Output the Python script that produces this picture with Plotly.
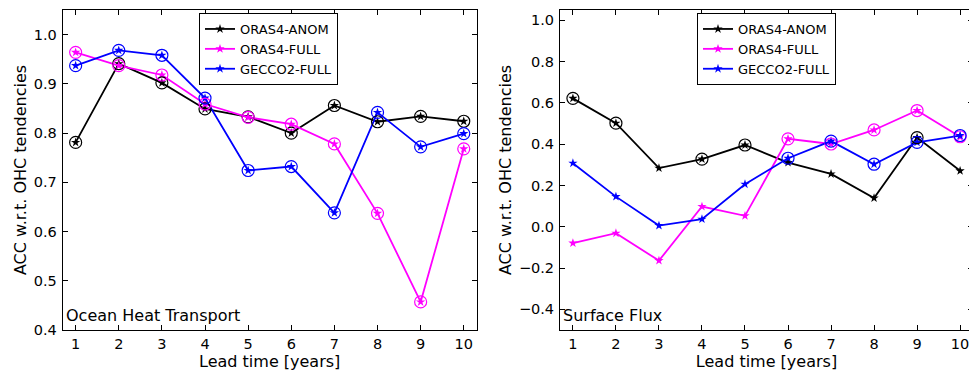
import plotly.graph_objects as go

lead = [1, 2, 3, 4, 5, 6, 7, 8, 9, 10]
xticks = [1, 2, 3, 4, 5, 6, 7, 8, 9, 10]

# Ocean Heat Transport panel
oht_anom = [0.781, 0.941, 0.902, 0.849, 0.833, 0.800, 0.856, 0.823, 0.834, 0.824]
oht_full = [0.964, 0.937, 0.918, 0.859, 0.832, 0.818, 0.778, 0.637, 0.457, 0.768]
oht_gecco = [0.937, 0.968, 0.958, 0.871, 0.724, 0.732, 0.638, 0.842, 0.772, 0.799]
oht_anom_sig = [True] * 10
oht_full_sig = [True] * 10
oht_gecco_sig = [True] * 10

# Surface Flux panel
sf_anom = [0.622, 0.502, 0.284, 0.328, 0.396, 0.311, 0.256, 0.139, 0.432, 0.271]
sf_full = [-0.079, -0.031, -0.164, 0.098, 0.053, 0.426, 0.401, 0.469, 0.563, 0.436]
sf_gecco = [0.308, 0.146, 0.006, 0.037, 0.206, 0.332, 0.415, 0.303, 0.409, 0.442]
sf_anom_sig = [True, True, False, True, True, False, False, False, True, False]
sf_full_sig = [False, False, False, False, False, True, True, True, True, True]
sf_gecco_sig = [False, False, False, False, False, True, True, True, True, True]

names = ["ORAS4-ANOM", "ORAS4-FULL", "GECCO2-FULL"]
colors = ["#000000", "#ff00ff", "#0000ff"]

FONT = "DejaVu Sans"
OFF = 8  # default page body margin
W, H = 977 - OFF, 371 - OFF


def px_x(p):
    return (p - OFF) / W


def px_y(p):
    return 1 - (p - OFF) / H


fig = go.Figure()

panels = [
    ("x", "y", "legend", [oht_anom, oht_full, oht_gecco], [oht_anom_sig, oht_full_sig, oht_gecco_sig]),
    ("x2", "y2", "legend2", [sf_anom, sf_full, sf_gecco], [sf_anom_sig, sf_full_sig, sf_gecco_sig]),
]

for xa, ya, lg, series, sigs in panels:
    for name, col, vals in zip(names, colors, series):
        fig.add_trace(go.Scatter(
            x=lead, y=vals, mode="lines+markers", name=name,
            line=dict(color=col, width=1.8),
            marker=dict(symbol="star", size=7, color=col),
            xaxis=xa, yaxis=ya, legend=lg, cliponaxis=False,
        ))
    for name, col, vals, sig in zip(names, colors, series, sigs):
        xs = [l for l, s in zip(lead, sig) if s]
        ys = [v for v, s in zip(vals, sig) if s]
        fig.add_trace(go.Scatter(
            x=xs, y=ys, mode="markers", showlegend=False,
            marker=dict(symbol="circle-open", size=12, color=col, line=dict(width=1.2)),
            xaxis=xa, yaxis=ya, hoverinfo="skip",
        ))

axis_common = dict(
    showline=True, linecolor="black", linewidth=1, mirror="allticks",
    ticks="inside", ticklen=5, tickcolor="black", tickwidth=1,
    showgrid=False, zeroline=False,
    tickfont=dict(family=FONT, size=14.5, color="black"),
)

TITLE_FONT = dict(family=FONT, size=16, color="black")
LEG_FONT = dict(family=FONT, size=13, color="black")
ydom = [px_y(330), px_y(10)]

fig.update_layout(
    width=W, height=H,
    margin=dict(l=0, r=0, t=0, b=0, autoexpand=False),
    paper_bgcolor="white", plot_bgcolor="white",
    font=dict(family=FONT, size=15, color="black"),
    xaxis=dict(domain=[px_x(62.7), px_x(476.7)], range=[0.7, 10.3], anchor="y",
               tickvals=xticks, ticktext=[str(t) for t in xticks], ticklabelstandoff=1,
               title=dict(text="Lead time [years]", font=TITLE_FONT, standoff=6),
               **axis_common),
    yaxis=dict(domain=ydom, range=[0.4, 1.05], anchor="x",
               tickvals=[0.4, 0.5, 0.6, 0.7, 0.8, 0.9, 1.0], tickformat=".1f",
               ticklabelstandoff=2,
               title=dict(text="ACC w.r.t. OHC tendencies", font=TITLE_FONT, standoff=3),
               **axis_common),
    xaxis2=dict(domain=[px_x(560), px_x(973)], range=[0.7, 10.3], anchor="y2",
                tickvals=xticks, ticktext=[str(t) for t in xticks], ticklabelstandoff=1,
                title=dict(text="Lead time [years]", font=TITLE_FONT, standoff=6),
                **axis_common),
    yaxis2=dict(domain=ydom, range=[-0.5, 1.05], anchor="x2",
                tickvals=[-0.4, -0.2, 0.0, 0.2, 0.4, 0.6, 0.8, 1.0], tickformat=".1f",
                ticklabelstandoff=2,
                title=dict(text="ACC w.r.t. OHC tendencies", font=TITLE_FONT, standoff=3),
                **axis_common),
    legend=dict(x=px_x(199), y=px_y(13), xanchor="left", yanchor="top",
                bordercolor="black", borderwidth=1, bgcolor="white",
                font=LEG_FONT, tracegroupgap=0, itemwidth=30),
    legend2=dict(x=px_x(697), y=px_y(13), xanchor="left", yanchor="top",
                 bordercolor="black", borderwidth=1, bgcolor="white",
                 font=LEG_FONT, tracegroupgap=0, itemwidth=30),
    annotations=[
        dict(text="Ocean Heat Transport", xref="x", yref="y", x=0.73, y=0.4,
             xanchor="left", yanchor="bottom", yshift=3, showarrow=False,
             font=TITLE_FONT),
        dict(text="Surface Flux", xref="x2", yref="y2", x=0.73, y=-0.5,
             xanchor="left", yanchor="bottom", yshift=3, showarrow=False,
             font=TITLE_FONT),
    ],
)

fig.write_html("out.html")
